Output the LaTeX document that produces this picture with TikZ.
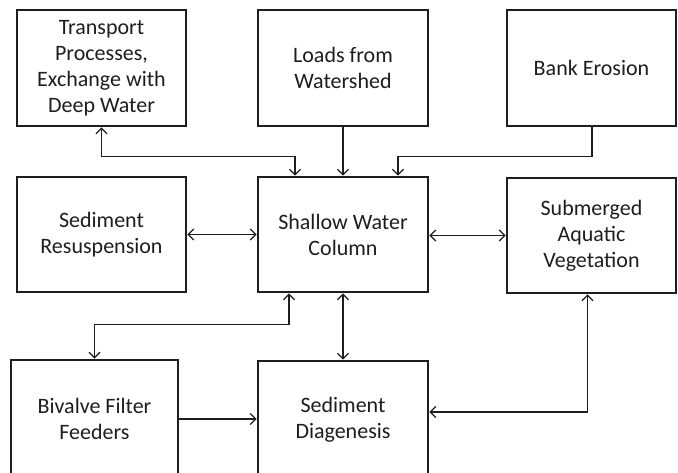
\documentclass[tikz,border=0pt]{standalone}
\usepackage{fontspec}
\setmainfont{Carlito}
\usetikzlibrary{arrows.meta}
\definecolor{ink}{HTML}{1E1E1E}
\begin{document}
\begin{tikzpicture}[x=1pt,y=-1pt,
  box/.style={draw=ink,line width=2.8pt,rectangle,minimum width=169pt,minimum height=116pt,
    align=center,text=ink,font=\fontsize{22}{26}\selectfont,inner sep=0pt},
  conn/.style={draw=ink,line width=1.4pt},
  tip/.tip={Straight Barb[length=5.5pt,width=11pt,line width=1.3pt]},
  >=tip]
\useasboundingbox (0,0) rectangle (678,472);
\clip (0,0) rectangle (678,472);
\fill[white] (0,0) rectangle (678,472);
\node[box] (T) at (101.5,68) {Transport\\Processes,\\Exchange with\\Deep Water};
\node[box,minimum width=170pt] (L) at (343,68) {Loads from\\Watershed};
\node[box] (B) at (591.5,68) {Bank Erosion};
\node[box,minimum height=115pt] (SR) at (101.5,234.5) {Sediment\\Resuspension};
\node[box,minimum width=170pt,minimum height=115pt] (SWC) at (343,234.5) {Shallow Water\\Column};
\node[box,minimum height=115pt] (SAV) at (591.5,235.5) {Submerged\\Aquatic\\Vegetation};
\node[box,minimum width=167pt,minimum height=118pt] (BV) at (94.5,419) {Bivalve Filter\\Feeders};
\node[box,minimum width=170pt,minimum height=118pt] (SD) at (343,420) {Sediment\\Diagenesis};

\draw[conn,<->] (T.south) -- ++(0,29) -| ([xshift=-48pt]SWC.north);
\draw[conn,->] (L.south) -- (SWC.north);
\draw[conn,->] ([xshift=0.5pt]B.south) -- ++(0,29) -| ([xshift=55pt]SWC.north);
\draw[conn,<->] (SR.east) -- (SWC.west);
\draw[conn,<->] ([yshift=-1pt]SWC.east) -- ([yshift=-1pt]SWC.east -| SAV.west);
\draw[conn,<->] ([xshift=-54pt]SWC.south) -- ++(0,31) -| (BV.north);
\draw[conn,<->] (SWC.south) -- (SD.north);
\draw[conn,->] (BV.east) -- (BV.east -| SD.west);
\draw[conn,<->] ([yshift=8pt]SD.east) -| ([xshift=-4pt]SAV.south);
\end{tikzpicture}
\end{document}
